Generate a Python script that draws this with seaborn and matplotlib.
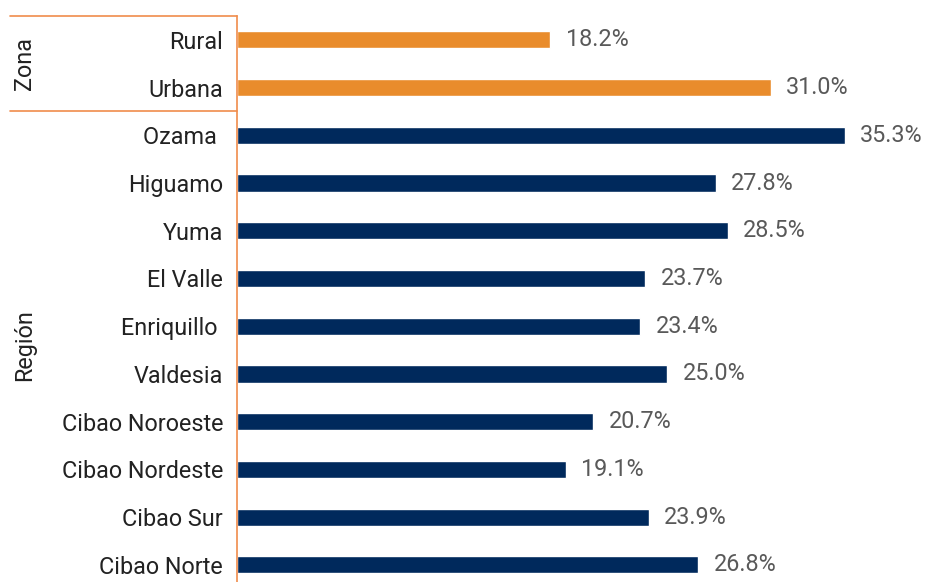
import matplotlib
matplotlib.use("Agg")
import matplotlib.pyplot as plt
import seaborn as sns
import pandas as pd

categories = ["Rural", "Urbana", "Ozama ", "Higuamo", "Yuma", "El Valle", "Enriquillo ",
              "Valdesia", "Cibao Noroeste", "Cibao Nordeste", "Cibao Sur", "Cibao Norte"]
values = [18.2, 31.0, 35.3, 27.8, 28.5, 23.7, 23.4, 25.0, 20.7, 19.1, 23.9, 26.8]
groups = ["Zona"] * 2 + ["Región"] * 10

df = pd.DataFrame({"cat": categories, "val": values, "grp": groups})

sns.set_style("white")
plt.rcParams["font.family"] = ["Roboto", "DejaVu Sans"]

W, H = 927, 582
fig = plt.figure(figsize=(W / 100, H / 100), dpi=100)
ax = fig.add_axes([237 / W, 0, (W - 237) / W, (H - 16) / H])

palette = {"Zona": "#E98C2C", "Región": "#00295C"}
sns.barplot(data=df, x="val", y="cat", hue="grp", palette=palette, dodge=False,
            width=0.36, saturation=1, legend=False, ax=ax, order=categories)

ax.set_xlim(0, 40.07)
ax.set_ylim(11.36, -0.5)
ax.set_xlabel("")
ax.set_ylabel("")
ax.set_xticks([])
for s in ["top", "right", "bottom"]:
    ax.spines[s].set_visible(False)
ax.spines["left"].set_color("#F08C4C")
ax.spines["left"].set_linewidth(1.2)
ax.tick_params(axis="y", length=0, pad=10, labelsize=16.8, labelcolor="#222222")

for i, v in enumerate(values):
    ax.text(v + 0.9, i, f"{v:.1f}%", va="center", ha="left", fontsize=16.8,
            color="#595959")

# group brackets on the left
line_kw = dict(color="#F08C4C", lw=1.2, clip_on=False, transform=ax.get_yaxis_transform())
x0 = (10 - 237) / (W - 237)
ax.plot([x0, 0], [-0.5, -0.5], **line_kw)
ax.plot([x0, 0], [1.5, 1.5], **line_kw)

tx = (25 - 237) / (W - 237)
ax.text(tx, 0.5, "Zona", rotation=90, ha="center", va="center", fontsize=16.8,
        color="#222222", transform=ax.get_yaxis_transform(), clip_on=False)
ax.text(tx, 6.4, "Región", rotation=90, ha="center", va="center", fontsize=16.8,
        color="#222222", transform=ax.get_yaxis_transform(), clip_on=False)

fig.savefig("out.png", dpi=100)
